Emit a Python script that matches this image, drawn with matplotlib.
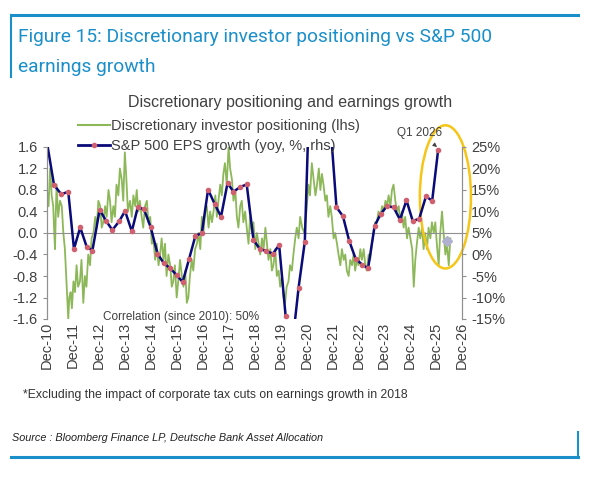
import matplotlib
matplotlib.use("Agg")
import matplotlib.pyplot as plt
from matplotlib.patches import Ellipse
from matplotlib.lines import Line2D

plt.rcParams['font.family'] = ['Liberation Sans', 'DejaVu Sans']

# discretionary investor positioning (lhs), decimal years
pos_years = [2010.92, 2010.98, 2011.04, 2011.10, 2011.16, 2011.20, 2011.23, 2011.26, 2011.29, 2011.35,
             2011.42, 2011.49, 2011.55, 2011.61, 2011.68, 2011.74, 2011.78, 2011.83, 2011.88, 2011.94,
             2012.00, 2012.06, 2012.12, 2012.19, 2012.25, 2012.32, 2012.38, 2012.44, 2012.51, 2012.58,
             2012.64, 2012.71, 2012.78, 2012.84, 2012.90, 2012.97, 2013.03, 2013.09, 2013.16, 2013.22,
             2013.29, 2013.35, 2013.41, 2013.48, 2013.54, 2013.60, 2013.67, 2013.73, 2013.80, 2013.86,
             2013.92, 2013.97, 2014.04, 2014.12, 2014.19, 2014.25, 2014.32, 2014.38, 2014.44, 2014.50,
             2014.57, 2014.63, 2014.70, 2014.77, 2014.83, 2014.90, 2014.96, 2015.02, 2015.09, 2015.15,
             2015.22, 2015.28, 2015.34, 2015.41, 2015.47, 2015.53, 2015.60, 2015.67, 2015.73, 2015.79,
             2015.85, 2015.92, 2015.98, 2016.05, 2016.12, 2016.18, 2016.25, 2016.31, 2016.37, 2016.43,
             2016.50, 2016.56, 2016.63, 2016.70, 2016.76, 2016.83, 2016.89, 2016.95, 2017.02, 2017.08,
             2017.15, 2017.21, 2017.28, 2017.34, 2017.41, 2017.47, 2017.53, 2017.60, 2017.66, 2017.72,
             2017.78, 2017.85, 2017.92, 2017.98, 2018.05, 2018.11, 2018.18, 2018.24, 2018.30, 2018.37,
             2018.43, 2018.49, 2018.56, 2018.62, 2018.69, 2018.75, 2018.82, 2018.88, 2018.95, 2019.01,
             2019.08, 2019.14, 2019.21, 2019.27, 2019.34, 2019.40, 2019.46, 2019.53, 2019.59, 2019.65,
             2019.72, 2019.78, 2019.85, 2019.91, 2019.98, 2020.04, 2020.10, 2020.16, 2020.23, 2020.29,
             2020.36, 2020.42, 2020.49, 2020.55, 2020.62, 2020.68, 2020.76, 2020.84, 2020.92, 2021.00,
             2021.06, 2021.13, 2021.20, 2021.27, 2021.33, 2021.40, 2021.46, 2021.52, 2021.58, 2021.65,
             2021.71, 2021.77, 2021.84, 2021.90, 2021.97, 2022.03, 2022.10, 2022.16, 2022.23, 2022.29,
             2022.36, 2022.42, 2022.48, 2022.55, 2022.61, 2022.68, 2022.74, 2022.80, 2022.87, 2022.93,
             2023.00, 2023.06, 2023.13, 2023.19, 2023.25, 2023.32, 2023.38, 2023.45, 2023.51, 2023.57,
             2023.64, 2023.70, 2023.77, 2023.84, 2023.90, 2023.97, 2024.03, 2024.09, 2024.16, 2024.22,
             2024.28, 2024.35, 2024.41, 2024.48, 2024.54, 2024.60, 2024.67, 2024.73, 2024.80, 2024.86,
             2024.93, 2025.00, 2025.06, 2025.12, 2025.18, 2025.25, 2025.31, 2025.38, 2025.44, 2025.50,
             2025.57, 2025.63, 2025.70, 2025.76, 2025.83, 2025.89, 2025.95, 2026.02, 2026.08, 2026.15,
             2026.21, 2026.28, 2026.34, 2026.41, 2026.47]
pos_values = [0.8, 0.5, 1.2, 0.7, 0.5, 0.0, -0.3, 0.4, 0.9, 0.3,
              0.6, 0.5, 0.0, -0.3, -1.0, -1.6, -1.2, -1.1, -1.4, -0.9,
              -1.1, -0.6, -1.0, -0.9, -0.5, -1.3, -0.8, -1.0, -0.4, -0.6,
              -0.1, 0.0, 0.3, 0.1, 0.6, 0.5, 0.1, 0.2, 0.5, 0.3,
              0.8, 0.6, 0.2, 0.5, 0.3, 0.9, 0.7, 1.2, 1.0, 0.6,
              1.5, 1.1, 0.4, 0.6, 0.3, 0.7, 0.5, 0.8, 0.4, 0.6,
              0.3, 0.1, 0.5, 0.6, 0.2, 0.3, -0.2, -0.1, -0.5, -0.2,
              -0.6, -0.4, -0.1, -0.5, -0.2, -0.8, -0.4, -0.6, -1.0, -0.9,
              -0.6, -1.2, -0.9, -0.5, -0.8, -1.0, -0.7, -1.3, -1.2, -0.8,
              -0.5, -0.7, -0.3, -0.2, 0.0, -0.3, 0.3, 0.0, 0.4, 0.5,
              0.1, 0.4, 0.2, 0.4, 0.7, 0.3, 0.6, 0.9, 0.7, 1.1,
              1.3, 0.9, 1.6, 1.2, 1.0, 0.6, 0.8, 0.3, 0.1, 0.5,
              0.6, 0.2, 0.4, 0.1, -0.2, 0.3, 0.0, 0.2, -0.3, 0.0,
              -0.2, -0.4, -0.1, -0.3, 0.1, -0.2, -0.5, -0.3, -0.7, -0.6,
              -0.3, -0.8, -0.7, -1.0, -0.8, -1.2, -1.3, -1.0, -0.9, -0.6,
              -0.7, -0.4, -0.1, 0.1, -0.1, 0.3, 0.1, 0.0, 0.4, 0.9,
              0.7, 1.3, 1.0, 0.7, 0.9, 1.2, 0.8, 1.1, 0.9, 0.6,
              0.7, 0.3, 0.5, 0.3, -0.1, 0.0, -0.2, -0.4, -0.6, -0.3,
              -0.5, -0.4, -0.7, -0.8, -0.5, -0.6, -0.4, -0.7, -0.5, -0.6,
              -0.3, -0.5, -0.3, -0.6, -0.7, -0.4, -0.5, -0.2, 0.0, 0.2,
              0.2, 0.4, 0.3, 0.5, 0.4, 0.6, 0.5, 0.7, 0.5, 0.8,
              0.9, 0.6, 0.4, 0.5, 0.2, 0.4, 0.1, 0.3, -0.1, 0.1,
              -0.1, -0.3, -1.0, -0.5, -0.2, 0.1, -0.1, 0.1, -0.3, 0.0,
              -0.3, 0.1, -0.1, 0.2, 0.0, 0.2, -0.2, -0.6, 0.0, 0.4,
              0.0, -0.4, -0.2, -0.6, -0.1]

# S&P 500 EPS growth (yoy, %, rhs), quarterly
eps_years = [2010.92, 2011.19, 2011.47, 2011.74, 2011.96, 2012.20, 2012.45, 2012.67, 2012.95, 2013.20,
             2013.44, 2013.70, 2013.93, 2014.19, 2014.42, 2014.66, 2014.92, 2015.18, 2015.42, 2015.67,
             2015.92, 2016.15, 2016.40, 2016.64, 2016.89, 2017.13, 2017.38, 2017.63, 2017.88, 2018.11,
             2018.37, 2018.62, 2018.88, 2019.12, 2019.37, 2019.63, 2019.87, 2020.12, 2020.36, 2020.62,
             2020.86, 2021.10, 2021.35, 2021.60, 2021.85, 2022.08, 2022.33, 2022.57, 2022.82, 2023.08,
             2023.30, 2023.55, 2023.78, 2024.02, 2024.28, 2024.53, 2024.78, 2025.02, 2025.27, 2025.53,
             2025.77, 2026.00]
eps_values = [26.0, 16.2, 14.0, 14.6, 1.3, 6.3, 1.8, 0.9, 10.4, 7.8,
              5.7, 7.7, 10.1, 5.4, 11.0, 10.5, 6.3, 0.2, -2.0, -3.2,
              -4.8, -6.4, -1.0, 4.3, 5.0, 15.1, 11.8, 8.8, 16.6, 14.6,
              15.7, 16.3, 3.4, 1.3, 0.8, 0.2, 2.2, -14.3, -22.0, -7.7,
              3.0, 50.0, 90.0, 40.0, 30.0, 11.0, 8.9, 3.2, -1.0, -2.4,
              -3.2, 6.6, 9.4, 11.2, 11.0, 8.1, 12.6, 7.8, 8.3, 13.5,
              12.5, 24.3]
est_year = [2026.35]
est_value = [3.1]

year_ticks = list(range(2010, 2027))
tick_labels = ["Dec-%02d" % (y % 100) for y in year_ticks]

GREEN = "#8DB859"
NAVY = "#0A0A78"
BLUE = "#1A8FC9"
GREY = "#404040"

fig = plt.figure(figsize=(5.95, 4.8), dpi=100)
W, H = 595, 480

# frame
fig.add_artist(Line2D([11/W, 578/W], [1-15/H, 1-15/H], color=BLUE, lw=2.2))
fig.add_artist(Line2D([11/W, 11/W], [1-15/H, 1-77/H], color=BLUE, lw=1.5))
fig.add_artist(Line2D([11/W, 578/W], [1-457/H, 1-457/H], color=BLUE, lw=2.2))
fig.add_artist(Line2D([578/W, 578/W], [1-432/H, 1-457/H], color=BLUE, lw=1.5))
fig.text(18/W, 1-37/H, "Figure 15: Discretionary investor positioning vs S&P 500",
         color=BLUE, fontsize=13.8, family=['Roboto', 'DejaVu Sans'], va='center')
fig.text(18/W, 1-67/H, "earnings growth",
         color=BLUE, fontsize=13.8, family=['Roboto', 'DejaVu Sans'], va='center')

ax = fig.add_axes([47/W, 1-319/H, (462-47)/W, (319-147)/H])
ax2 = ax.twinx()

ax.plot(pos_years, pos_values, color=GREEN, lw=1.3)
ax.axhline(0, color="#909090", lw=0.8)
ax.set_ylim(-1.6, 1.6)
lhs_ticks = [-1.6, -1.2, -0.8, -0.4, 0.0, 0.4, 0.8, 1.2, 1.6]
ax.set_yticks(lhs_ticks)
ax.set_yticklabels(["%.1f" % v for v in lhs_ticks])
ax.set_xlim(2010.92, 2026.92)
ax.set_xticks([y + 0.92 for y in year_ticks])
ax.set_xticklabels(tick_labels, rotation=90)

ax2.plot(eps_years, eps_values, color=NAVY, lw=1.8, marker='o', ms=3,
         mfc="#D06070", mec="#D06070")
ax2.plot(est_year, est_value, marker='D', ms=5, color="#B0B0D0", ls='none')
ax2.set_ylim(-15, 25)
ax2.set_yticks(range(-15, 30, 5))
ax2.set_yticklabels(["%d%%" % v for v in range(-15, 30, 5)])

for a in (ax, ax2):
    for s in ("top", "bottom"):
        a.spines[s].set_visible(False)
    a.spines["left"].set_color("#909090")
    a.spines["right"].set_color("#909090")
    a.tick_params(colors=GREY, labelsize=10.5, length=3, color="#909090")
ax.tick_params(axis='x', length=0, pad=2)

ax2.add_patch(Ellipse((2026.28, 13.4), 1.97, 33.3, fill=False, ec="#F5C518",
                      lw=1.8, clip_on=False))
ax2.annotate("Q1 2026", xy=(2026.0, 24.8), xytext=(2025.3, 28.2), fontsize=8.5,
             color=GREY, ha='center', va='center', annotation_clip=False,
             arrowprops=dict(arrowstyle='-|>', color=GREY, lw=0.6, mutation_scale=6,
                             shrinkA=4, shrinkB=1))

fig.text(290/W, 1-103/H, "Discretionary positioning and earnings growth",
         color=GREY, fontsize=11.5, ha='center', va='center')
leg_items = [Line2D([], [], color=GREEN, lw=1.5),
             Line2D([], [], color=NAVY, lw=2, marker='o', ms=3, mfc="#D06070", mec="#D06070")]
fig.legend(leg_items, ["Discretionary investor positioning (lhs)",
                       "S&P 500 EPS growth (yoy, %, rhs)"],
           loc='upper left', bbox_to_anchor=(72/W, 1-113/H), frameon=False,
           fontsize=10.5, labelcolor=GREY, handlelength=2.2, handletextpad=0.1,
           labelspacing=0.45, borderaxespad=0)
fig.text(103/W, 1-317/H, "Correlation (since 2010): 50%", color=GREY, fontsize=8.5,
         va='center')
fig.text(23/W, 1-395/H, "*Excluding the impact of corporate tax cuts on earnings growth in 2018",
         color="#333333", fontsize=8.8, va='center')
fig.text(12/W, 1-438/H, "Source : Bloomberg Finance LP, Deutsche Bank Asset Allocation",
         color="#222222", fontsize=7.8, style='italic', va='center')

fig.savefig("out.png", dpi=100)
